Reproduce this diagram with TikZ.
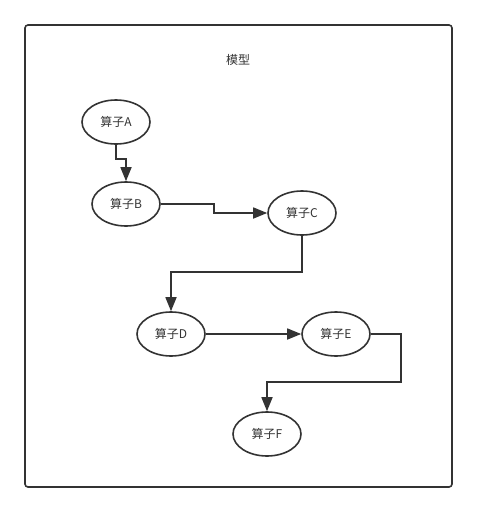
\documentclass[tikz,border=0pt]{standalone}
\usepackage{fontspec}
\usepackage{tikz}
\usetikzlibrary{shapes.geometric, arrows.meta, positioning}
\newfontfamily\cjk{Noto Sans CJK SC}
\definecolor{linecolor}{HTML}{333333}
\definecolor{textcolor}{HTML}{333333}

\begin{document}
\begin{tikzpicture}[x=1pt, y=-1pt, every node/.style={font=\cjk\fontsize{12}{14}\selectfont, text=textcolor}]
\tikzstyle{op}=[draw=linecolor, ellipse, line width=1.6pt, minimum width=68pt, minimum height=44pt, inner sep=0pt, fill=white]
\tikzstyle{ar}=[-{Triangle[length=14pt, width=11pt]}, line width=1.6pt, color=linecolor]

\useasboundingbox (0,0) rectangle (477,512);
\draw[linecolor, line width=1.6pt, rounded corners=3pt] (25,25) rectangle (452,487);
\node(title) at (238,60){模型};

\node[op](a) at (116,122){算子A};
\node[op](b) at (126,204){算子B};
\node[op](c) at (302,213){算子C};
\node[op](d) at (171,334){算子D};
\node[op](e) at (336,334){算子E};
\node[op](f) at (267,434){算子F};

\draw[ar](a.south) -- ++(0,14) -| (b.north);
\draw[ar](b.east) -- ++(53,0) |- (c.west);
\draw[ar](c.south) -- ++(0,36) -| (d.north);
\draw[ar](d.east) -- (e.west);
\draw[ar](e.east) -- ++(30,0) -- ++(0,48) -| (f.north);
\end{tikzpicture}
\end{document}
